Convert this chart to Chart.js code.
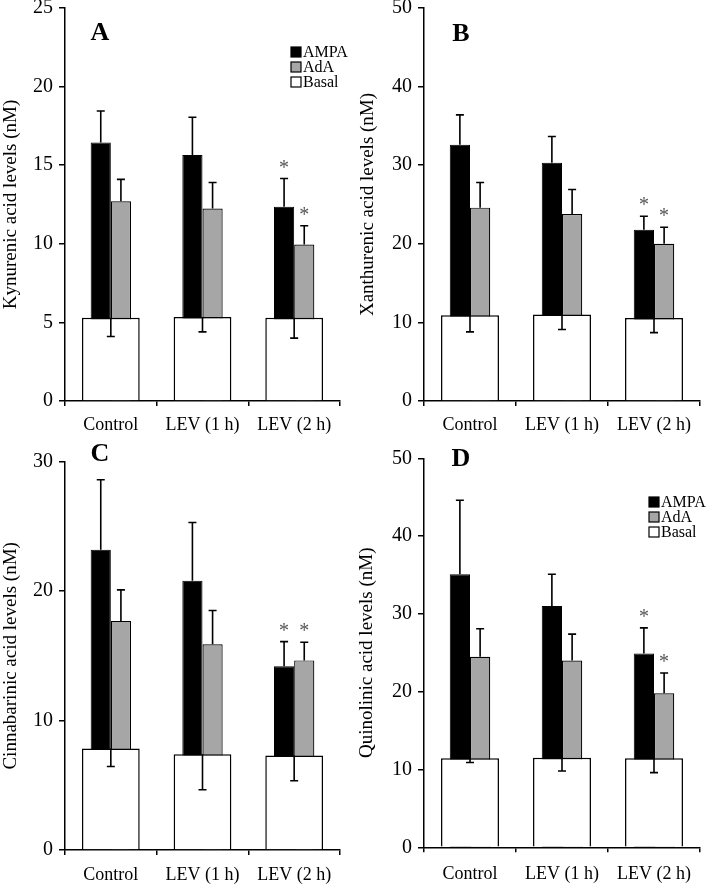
<!DOCTYPE html>
<html>
<head>
<meta charset="utf-8">
<script src="https://cdn.jsdelivr.net/npm/chart.js@4"></script>
<style>
  body { margin: 0; background: #fff; }
  #figure { position: relative; width: 709px; height: 884px; }
  #figure canvas { position: absolute; }
</style>
</head>
<body>
<div id="figure">
  <canvas id="panelA" width="354" height="440" style="left:0;top:0"></canvas>
  <canvas id="panelB" width="354" height="440" style="left:355px;top:0"></canvas>
  <canvas id="panelC" width="354" height="444" style="left:0;top:440px"></canvas>
  <canvas id="panelD" width="354" height="444" style="left:355px;top:440px"></canvas>
</div>
<script>
const groups = ['Control', 'LEV (1 h)', 'LEV (2 h)'];
const seriesNames = ['AMPA', 'AdA', 'Basal'];
const significant = [false, false, true];

// A - kynurenic acid (nM)
const kynTicks = [0, 5, 10, 15, 20, 25];
const kynAmpa = [16.45, 15.65, 12.35];
const kynAmpaSem = [2.0, 2.4, 1.8];
const kynAda = [12.7, 12.25, 9.95];
const kynAdaSem = [1.4, 1.65, 1.2];
const kynBasal = [5.3, 5.35, 5.3];
const kynBasalSem = [1.2, 0.95, 1.3];

// B - xanthurenic acid (nM)
const xanTicks = [0, 10, 20, 30, 40, 50];
const xanAmpa = [32.6, 30.3, 21.8];
const xanAmpaSem = [3.8, 3.35, 1.7];
const xanAda = [24.6, 23.8, 20.0];
const xanAdaSem = [3.2, 3.1, 2.1];
const xanBasal = [10.9, 11.0, 10.55];
const xanBasalSem = [2.1, 1.9, 1.85];

// C - cinnabarinic acid (nM)
const cinTicks = [0, 10, 20, 30];
const cinAmpa = [23.2, 20.8, 14.2];
const cinAmpaSem = [5.4, 4.5, 1.9];
const cinAda = [17.7, 15.9, 14.65];
const cinAdaSem = [2.4, 2.6, 1.4];
const cinBasal = [7.85, 7.4, 7.3];
const cinBasalSem = [1.4, 2.75, 1.95];

// D - quinolinic acid (nM)
const quinTicks = [0, 10, 20, 30, 40, 50];
const quinAmpa = [35.1, 31.0, 24.9];
const quinAmpaSem = [9.5, 4.1, 3.3];
const quinAda = [24.5, 24.0, 19.8];
const quinAdaSem = [3.6, 3.4, 2.6];
const quinBasal = [11.45, 11.5, 11.45];
const quinBasalSem = [0.55, 1.7, 1.85];

const SERIF = "'Liberation Serif', 'Times New Roman', serif";

const panelDecor = {
  id: 'panelDecor',
  afterDatasetsDraw(chart, args, opts) {
    const ctx = chart.ctx;
    const y = chart.scales.y;
    ctx.save();
    chart.data.datasets.forEach((ds, di) => {
      chart.getDatasetMeta(di).data.forEach((bar, i) => {
        const end = ds.down ? ds.data[i] - ds.sem[i] : ds.data[i] + ds.sem[i];
        const yEnd = y.getPixelForValue(end);
        ctx.strokeStyle = '#000';
        ctx.lineWidth = 1.6;
        ctx.beginPath();
        ctx.moveTo(bar.x, bar.y);
        ctx.lineTo(bar.x, yEnd);
        ctx.moveTo(bar.x - 4, yEnd);
        ctx.lineTo(bar.x + 4, yEnd);
        ctx.stroke();
        if (ds.sig && ds.sig[i]) {
          ctx.fillStyle = '#555';
          ctx.font = '20px ' + SERIF;
          ctx.textAlign = 'center';
          ctx.textBaseline = 'alphabetic';
          ctx.fillText('*', bar.x, yEnd - 5);
        }
      });
    });

    ctx.fillStyle = '#000';
    ctx.font = 'bold 26px ' + SERIF;
    ctx.textAlign = 'center';
    ctx.textBaseline = 'middle';
    ctx.fillText(opts.letter, opts.letterX, opts.letterY);

    if (opts.legend) {
      ctx.font = '16px ' + SERIF;
      ctx.textAlign = 'left';
      chart.data.datasets.forEach((ds, di) => {
        const ry = opts.legendY + di * 15;
        ctx.fillStyle = ds.backgroundColor;
        ctx.fillRect(opts.legendX, ry - 5, 10, 10);
        ctx.strokeStyle = '#000';
        ctx.lineWidth = 1.2;
        ctx.strokeRect(opts.legendX, ry - 5, 10, 10);
        ctx.fillStyle = '#000';
        ctx.fillText(ds.label, opts.legendX + 12, ry + 1);
      });
    }
    ctx.restore();
  }
};

function makePanel(id, lay, yTitle, ticks, ampa, ampaSem, ada, adaSem, basal, basalSem) {
  const ctx = document.getElementById(id).getContext('2d');
  return new Chart(ctx, {
    type: 'bar',
    data: {
      labels: groups,
      datasets: [
        {
          label: seriesNames[0], data: ampa, sem: ampaSem, sig: significant,
          backgroundColor: '#000', borderColor: '#000', borderWidth: 1,
          order: 1, categoryPercentage: 0.44, barPercentage: 1
        },
        {
          label: seriesNames[1], data: ada, sem: adaSem, sig: significant,
          backgroundColor: '#a6a6a6', borderColor: '#000', borderWidth: 1.2,
          order: 1, categoryPercentage: 0.44, barPercentage: 1
        },
        {
          label: seriesNames[2], data: basal, sem: basalSem, down: true,
          backgroundColor: '#fff', borderColor: '#000', borderWidth: 1.5,
          order: 0, grouped: false, categoryPercentage: 1, barPercentage: 0.63
        }
      ]
    },
    options: {
      responsive: false,
      animation: false,
      layout: { padding: { top: lay.padTop, right: lay.padRight, left: 0, bottom: 0 } },
      scales: {
        x: {
          offset: true,
          afterFit: s => { s.height = lay.xHeight; s.paddingLeft = 0; s.paddingRight = 0; },
          grid: { offset: true, drawOnChartArea: false, drawTicks: true, tickLength: 5, color: '#000', lineWidth: 1.5 },
          border: { color: '#000', width: 1.5 },
          ticks: { color: '#000', font: { family: SERIF, size: 18 }, padding: lay.labelPad, maxRotation: 0 }
        },
        y: {
          min: ticks[0],
          max: ticks[ticks.length - 1],
          afterFit: s => { s.width = lay.yWidth; s.paddingTop = 0; s.paddingBottom = 0; },
          grid: { drawOnChartArea: false, drawTicks: true, tickLength: 6, color: '#000', lineWidth: 1.5 },
          border: { color: '#000', width: 1.5 },
          ticks: { stepSize: ticks[1] - ticks[0], color: '#000', font: { family: SERIF, size: 20 }, padding: 6 },
          title: { display: true, text: yTitle, color: '#000', font: { family: SERIF, size: 19 }, padding: { top: lay.titlePad, bottom: 0 } }
        }
      },
      plugins: {
        legend: { display: false },
        tooltip: { enabled: false },
        panelDecor: lay.decor
      }
    },
    plugins: [panelDecor]
  });
}

makePanel('panelA',
  { padTop: 8, padRight: 14, yWidth: 65, xHeight: 39, titlePad: 0, labelPad: 8,
    decor: { letter: 'A', letterX: 100, letterY: 33, legend: true, legendX: 291, legendY: 52 } },
  'Kynurenic acid levels (nM)', kynTicks, kynAmpa, kynAmpaSem, kynAda, kynAdaSem, kynBasal, kynBasalSem);

makePanel('panelB',
  { padTop: 8, padRight: 9, yWidth: 69, xHeight: 39, titlePad: 2, labelPad: 8,
    decor: { letter: 'B', letterX: 106, letterY: 34, legend: false } },
  'Xanthurenic acid levels (nM)', xanTicks, xanAmpa, xanAmpaSem, xanAda, xanAdaSem, xanBasal, xanBasalSem);

makePanel('panelC',
  { padTop: 21.7, padRight: 14, yWidth: 65, xHeight: 34, titlePad: 0, labelPad: 9,
    decor: { letter: 'C', letterX: 100, letterY: 14.5, legend: false } },
  'Cinnabarinic acid levels (nM)', cinTicks, cinAmpa, cinAmpaSem, cinAda, cinAdaSem, cinBasal, cinBasalSem);

makePanel('panelD',
  { padTop: 18.3, padRight: 9, yWidth: 69, xHeight: 36.7, titlePad: 1, labelPad: 11,
    decor: { letter: 'D', letterX: 106, letterY: 19, legend: true, legendX: 294, legendY: 62 } },
  'Quinolinic acid levels (nM)', quinTicks, quinAmpa, quinAmpaSem, quinAda, quinAdaSem, quinBasal, quinBasalSem);
</script>
</body>
</html>
